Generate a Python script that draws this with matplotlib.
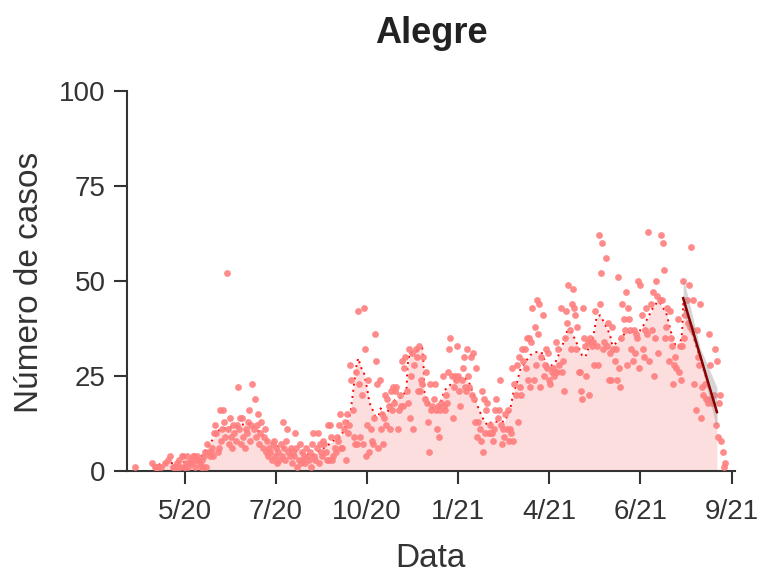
import matplotlib
matplotlib.use("Agg")
import matplotlib.pyplot as plt
import numpy as np

plt.rcParams['font.family'] = ['Liberation Sans', 'DejaVu Sans']

# casos diarios (dia 0 = inicio da serie)
casos = [
    0,1,0,0,0,0,0,0,0,0,
    0,0,0,0,0,0,2,0,1,1,
    1,1,0,0,1,0,0,2,0,0,
    3,0,4,0,1,1,0,1,2,1,
    3,1,4,4,1,1,2,4,1,2,
    3,2,4,4,1,3,4,3,2,1,
    3,1,4,5,1,7,5,4,5,6,
    4,10,12,10,5,6,16,8,11,16,
    13,9,52,11,7,14,9,6,12,10,
    8,12,22,11,14,7,14,9,6,11,
    10,13,16,8,12,23,11,19,9,12,
    15,7,10,13,6,9,11,5,8,4,
    6,5,3,7,8,4,6,2,5,3,
    7,4,13,6,3,8,11,5,4,6,
    2,5,4,10,6,1,3,7,2,5,
    3,4,2,6,4,3,5,1,7,10,
    4,3,6,10,2,7,5,4,8,7,
    5,3,12,3,12,9,3,4,6,5,
    9,8,12,15,6,6,11,13,3,15,
    10,12,28,24,16,9,7,26,7,42,
    23,9,20,7,43,32,4,12,24,5,
    11,8,7,14,36,29,23,6,24,11,
    15,7,14,20,12,19,17,11,21,16,
    22,18,21,22,11,16,20,17,29,17,
    27,30,21,18,32,14,25,31,11,28,
    32,30,21,33,21,24,23,30,19,26,
    18,13,5,23,16,17,19,23,16,11,
    17,9,16,18,25,17,16,20,18,26,
    32,35,25,14,22,25,24,33,25,21,
    17,24,27,30,22,21,32,25,22,30,
    20,31,19,13,27,9,13,11,8,21,
    5,19,10,16,18,10,12,10,10,8,
    11,16,19,14,16,24,12,7,11,9,
    15,11,16,8,11,10,27,8,23,20,
    28,13,30,22,20,32,29,32,27,35,
    24,35,22,34,43,24,38,28,45,36,
    44,22,30,41,25,28,32,27,31,24,
    23,26,27,25,26,34,26,32,28,43,
    26,29,21,35,42,39,49,37,32,44,
    48,43,41,32,38,26,26,21,19,43,
    35,33,25,34,20,35,34,33,34,28,
    42,33,28,62,44,52,60,32,34,56,
    33,39,24,31,24,38,32,29,32,24,
    51,27,22,35,44,40,37,47,28,43,
    40,37,32,29,37,31,36,35,50,27,
    49,41,32,30,37,43,36,63,29,44,
    37,47,25,35,50,46,31,45,62,45,
    60,53,35,38,43,29,42,35,33,23,
    28,30,27,40,26,33,24,33,50,35,
    41,45,39,49,38,59,37,45,23,16,
    37,30,28,44,14,22,20,23,19,19,
    18,36,28,19,18,20,32,12,29,9,
    18,20,8,5,1,2,0,
]

# media movel (dia, valor)
mm_dia = [16, 30, 45, 55, 60, 65, 69, 76, 83, 88, 101, 107, 112, 118, 129,
          147, 153, 159, 165, 171, 177, 183, 187, 192, 195, 197, 199, 202,
          204, 205, 208, 209, 212, 214, 217, 219, 221, 225, 229, 232, 238,
          242, 243, 245, 250, 256, 257, 258, 263, 270, 273, 276, 282, 288,
          294, 298, 301, 304, 309, 314, 318, 329, 334, 337, 340, 343, 347,
          352, 356, 362, 365, 369, 374, 378, 383, 385, 389, 392, 395, 398,
          401, 403, 407, 409, 411, 414, 418, 423, 425, 430, 433, 438, 445,
          448, 452, 457, 460, 465, 467, 470, 473, 476, 479, 482, 485, 487,
          488, 518]
mm_val = [1.5, 2, 2.4, 3, 4, 6.3, 8, 11, 11.5, 11.6, 12.6, 11.5, 10, 8, 6.3,
          5, 4.5, 4, 5.5, 6.5, 8, 9, 11, 15, 22, 27, 29.7, 27,
          26, 24.7, 20, 18, 16, 14.5, 14.3, 16.5, 15, 15.5, 18, 18.7, 19.5,
          21.3, 28, 31.3, 31.5, 32.4, 29, 20, 17, 15.5, 18.7, 21.3, 23, 24.5,
          24.5, 23, 20.5, 18, 14.3, 12, 13, 13, 16, 20.5, 23, 26.6, 28.4,
          30.5, 31.3, 31.3, 29, 27.4, 28.4, 31, 35, 37, 36.6, 34.5, 32.6, 30.5,
          30, 31.8, 33.7, 37, 40.5, 41, 39, 35.8, 33, 34, 35.3, 36.6, 36.3,
          36.3, 38, 40.5, 42.4, 44.5, 44.5, 43, 41.6, 38, 34.5, 32.6, 33, 36.3,
          44, 15.5]

# tendencia final
tend_dia = [488, 503, 518]
tend_fit = [45.5, 30.5, 15.5]
tend_lo = [42, 29, 11]
tend_hi = [51, 32.5, 22]

tick_dia = [45, 126, 207, 288, 369, 450, 531]
tick_lab = ['5/20', '7/20', '10/20', '1/21', '4/21', '6/21', '9/21']

dias = np.arange(len(casos))
casos = np.array(casos)
m = casos > 0

fig = plt.figure(figsize=(7.6, 5.73), dpi=100)
ax = fig.add_axes([0.167, 0.178, 0.80, 0.663])

ax.fill_between(mm_dia, 0, mm_val, color='#fddede', lw=0, zorder=1)
ax.plot(mm_dia, mm_val, color='red', lw=1.4, linestyle=(0, (1, 2.2)), zorder=2)
ax.scatter(dias[m], casos[m], s=24, color='#ff7f7f', lw=0, alpha=0.9, zorder=3)
ax.fill_between(tend_dia, tend_lo, tend_hi, color='#999999', alpha=0.4, lw=0, zorder=4)
ax.plot(tend_dia, tend_fit, color='#8b0000', lw=1.8, zorder=5)

ax.set_xlim(-6.6, 534)
ax.set_ylim(0, 100)
ax.set_xticks(tick_dia)
ax.set_xticklabels(tick_lab)
ax.set_yticks([0, 25, 50, 75, 100])

for s in ['top', 'right']:
    ax.spines[s].set_visible(False)
for s in ['left', 'bottom']:
    ax.spines[s].set_color('#333333')
    ax.spines[s].set_linewidth(1.5)
ax.tick_params(axis='both', colors='#333333', width=1.5, length=9.5,
               labelsize=20, labelcolor='#333333')
ax.tick_params(axis='x', pad=11)
ax.tick_params(axis='y', pad=6)

fig.text(431/760, 0.925, 'Alegre', ha='center', va='baseline',
         fontsize=26, fontweight='bold', color='#222222')
fig.text(0.5667, 0.01, 'Data', ha='center', va='baseline', fontsize=24, color='#333333')
fig.text(0.039, 0.508, 'Número de casos', ha='center', va='center',
         rotation=90, fontsize=24, color='#333333')

fig.savefig('out.png', dpi=100)
